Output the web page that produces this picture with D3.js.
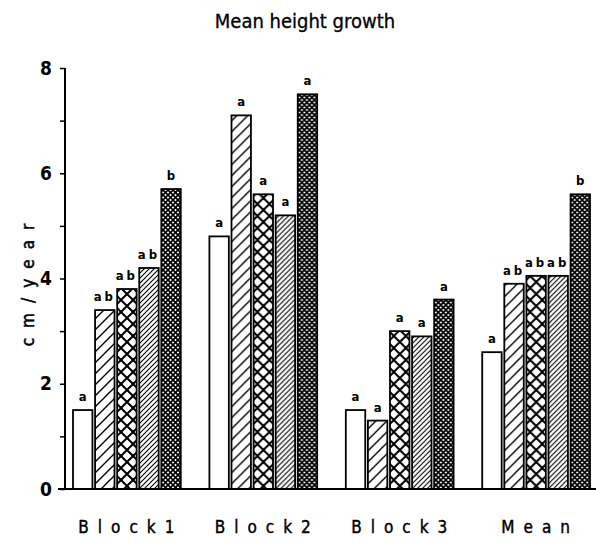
<!DOCTYPE html>
<html>
<head>
<meta charset="utf-8">
<script src="https://cdn.jsdelivr.net/npm/d3@7"></script>
<style>
  html, body { margin: 0; padding: 0; background: #fff; }
  svg { display: block; }
</style>
</head>
<body>
<svg id="chart" width="596" height="548"></svg>
<script>
// Mean height growth per block, five treatments each
const blocks = ["Block1", "Block2", "Block3", "Mean"];
const treatments = ["t1", "t2", "t3", "t4", "t5"];
const growthBlock1 = [1.5, 3.4, 3.8, 4.2, 5.7];
const growthBlock2 = [4.8, 7.1, 5.6, 5.2, 7.5];
const growthBlock3 = [1.5, 1.3, 3.0, 2.9, 3.6];
const growthMean   = [2.6, 3.9, 4.05, 4.05, 5.6];
const lettersBlock1 = ["a", "ab", "ab", "ab", "b"];
const lettersBlock2 = ["a", "a", "a", "a", "a"];
const lettersBlock3 = ["a", "a", "a", "a", "a"];
const lettersMean   = ["a", "ab", "ab", "ab", "b"];
const yTicks = [0, 2, 4, 6, 8];

const values = [growthBlock1, growthBlock2, growthBlock3, growthMean];
const letters = [lettersBlock1, lettersBlock2, lettersBlock3, lettersMean];

const svg = d3.select("#chart");
const defs = svg.append("defs");

// Hatch fills for the five treatments
function hatch(id, size, width, cross) {
  const p = defs.append("pattern")
    .attr("id", id).attr("patternUnits", "userSpaceOnUse")
    .attr("width", size).attr("height", size);
  p.append("rect").attr("width", size).attr("height", size).attr("fill", "#fff");
  const s = size;
  p.append("path")
    .attr("d", `M${-s/2},${s/2} L${s/2},${-s/2} M0,${s} L${s},0 M${s/2},${s*1.5} L${s*1.5},${s/2}`)
    .attr("stroke", "#000").attr("stroke-width", width).attr("fill", "none");
  if (cross) {
    p.append("path")
      .attr("d", `M${-s/2},${s/2} L${s/2},${s*1.5} M0,0 L${s},${s} M${s/2},${-s/2} L${s*1.5},${s/2}`)
      .attr("stroke", "#000").attr("stroke-width", width).attr("fill", "none");
  }
}
hatch("p2", 11, 1.4, false);
hatch("p3", 12, 2.0, true);
hatch("p4", 5, 1.1, false);
hatch("p5", 5, 1.7, true);
const fills = ["#fff", "url(#p2)", "url(#p3)", "url(#p4)", "url(#p5)"];

const y = d3.scaleLinear().domain([0, 8]).range([489, 68]);
const x0 = d3.scaleBand().domain(blocks).range([73, 590]).paddingInner(0.21).paddingOuter(0);
const x1 = d3.scaleBand().domain(treatments).range([0, x0.bandwidth()]).paddingInner(0.12).paddingOuter(0);

const font = "'DejaVu Sans Condensed', 'DejaVu Sans', sans-serif";

// Title
svg.append("text")
  .attr("x", 305).attr("y", 28)
  .attr("text-anchor", "middle")
  .attr("font-family", font).attr("font-size", 20)
  .attr("stroke", "#000").attr("stroke-width", 0.3)
  .text("Mean height growth");

// Bars
const groups = svg.append("g").selectAll("g")
  .data(blocks.map((b, i) => ({ block: b, vals: values[i], lets: letters[i] })))
  .join("g")
  .attr("transform", d => `translate(${x0(d.block)},0)`);

groups.selectAll("rect")
  .data(d => d.vals.map((v, j) => ({ v, j })))
  .join("rect")
  .attr("x", d => x1(treatments[d.j]))
  .attr("y", d => y(d.v))
  .attr("width", x1.bandwidth())
  .attr("height", d => y(0) - y(d.v))
  .attr("fill", d => fills[d.j])
  .attr("stroke", "#000")
  .attr("stroke-width", 1.8);

// Significance letters above bars
groups.selectAll("text.sig")
  .data(d => d.lets.map((l, j) => ({ l, j, v: d.vals[j] })))
  .join("text")
  .attr("class", "sig")
  .attr("x", d => x1(treatments[d.j]) + x1.bandwidth() / 2)
  .attr("y", d => y(d.v) - 9)
  .attr("text-anchor", "middle")
  .attr("font-family", font).attr("font-weight", "bold").attr("font-size", 13)
  .attr("letter-spacing", d => d.l.length > 1 ? 3 : 0)
  .text(d => d.l);

// Y axis with minor ticks every unit
const yAxis = d3.axisLeft(y).tickValues(d3.range(0, 9)).tickSize(5)
  .tickFormat(d => yTicks.includes(d) ? d : "");
const gy = svg.append("g").attr("transform", "translate(65,0)").call(yAxis);
gy.select(".domain").attr("stroke-width", 2).attr("d", `M0,${y(8)}V${y(0)}`);
gy.selectAll(".tick line").attr("stroke-width", 1.5);
gy.selectAll(".tick text")
  .attr("x", -13)
  .attr("font-family", font).attr("font-weight", "bold").attr("font-size", 19)
  .attr("fill", "#000");

// X axis baseline
const xAxis = d3.axisBottom(x0).tickSize(0).tickPadding(32);
const gx = svg.append("g").attr("transform", `translate(0,${y(0)})`).call(xAxis);
gx.select(".domain").attr("d", `M58,0H596`).attr("stroke-width", 2.2);
gx.selectAll(".tick text")
  .attr("font-family", font).attr("font-size", 17)
  .attr("stroke", "#000").attr("stroke-width", 0.4)
  .attr("letter-spacing", 9)
  .attr("dx", 4)
  .attr("fill", "#000");

// Y axis title
svg.append("text")
  .attr("transform", "translate(34,280) rotate(-90)")
  .attr("text-anchor", "middle")
  .attr("font-family", font).attr("font-size", 17)
  .attr("stroke", "#000").attr("stroke-width", 0.5)
  .attr("letter-spacing", 10)
  .text("cm/year");
</script>
</body>
</html>
